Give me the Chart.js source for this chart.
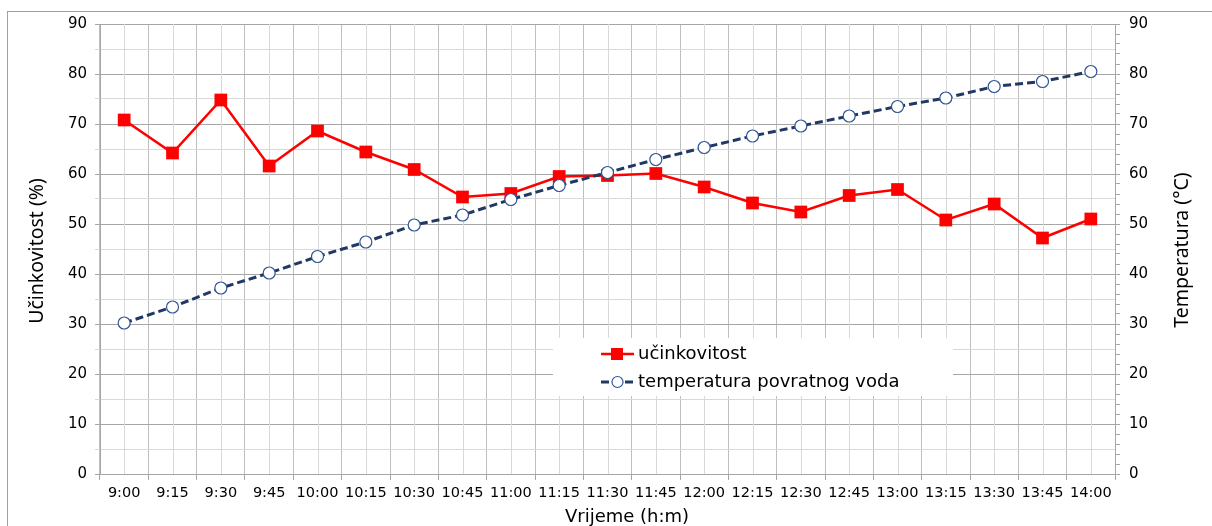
<!DOCTYPE html>
<html>
<head>
<meta charset="utf-8">
<script src="https://cdn.jsdelivr.net/npm/chart.js@4/dist/chart.umd.min.js"></script>
<style>
  html, body { margin: 0; padding: 0; background: #fff; overflow: hidden; }
  #wrap { position: relative; width: 1212px; height: 526px; }
  #frame { position: absolute; left: 7px; top: 11px; width: 1230px; height: 600px; border: 1px solid #a0a0a0; box-sizing: border-box; }
  canvas { position: absolute; left: 0; top: 0; }
</style>
</head>
<body>
<div id="wrap">
  <div id="frame"></div>
  <canvas id="chart" width="1212" height="526"></canvas>
</div>
<script>
// vremena mjerenja
const times = ["9:00", "9:15", "9:30", "9:45", "10:00", "10:15", "10:30", "10:45", "11:00", "11:15",
  "11:30", "11:45", "12:00", "12:15", "12:30", "12:45", "13:00", "13:15", "13:30", "13:45", "14:00"];

// učinkovitost (%)
const efficiency = [70.8, 64.2, 74.8, 61.6, 68.6, 64.4, 60.9, 55.4, 56.1, 59.5,
  59.7, 60.1, 57.4, 54.2, 52.4, 55.7, 56.9, 50.8, 54.0, 47.2, 51.0];

// temperatura povratnog voda (°C)
const returnTemp = [30.2, 33.4, 37.2, 40.2, 43.5, 46.4, 49.8, 51.8, 54.9, 57.7,
  60.3, 62.9, 65.3, 67.6, 69.6, 71.6, 73.5, 75.2, 77.5, 78.5, 80.5];

const axisMin = 0, axisMax = 90;
const seriesNames = ["učinkovitost", "temperatura povratnog voda"];
const axisTitles = { left: "Učinkovitost (%)", right: "Temperatura (°C)", bottom: "Vrijeme (h:m)" };

const MAJOR = "#a6a6a6";
const VLINE = "#bfbfbf";
const MINOR = "#d9d9d9";
const TICK_FONT = "'DejaVu Sans', Verdana, sans-serif";

// svijetle okomite linije na sredini svake kategorije
const minorGrid = {
  id: "minorGrid",
  beforeDatasetsDraw(chart) {
    const { ctx, chartArea: a } = chart;
    const xs = chart.scales.x;
    ctx.save();
    ctx.strokeStyle = MINOR;
    ctx.lineWidth = 1;
    times.forEach((t, i) => {
      const x = Math.round(xs.getPixelForValue(i)) + 0.5;
      ctx.beginPath();
      ctx.moveTo(x, a.top);
      ctx.lineTo(x, a.bottom);
      ctx.stroke();
    });
    ctx.restore();
  }
};

// naslovi osi i legenda unutar grafa
const decorations = {
  id: "decorations",
  afterDraw(chart) {
    const { ctx } = chart;
    ctx.save();
    ctx.fillStyle = "#000";
    ctx.textAlign = "center";
    ctx.textBaseline = "middle";

    ctx.font = "19.5px 'Noto Sans', sans-serif";
    ctx.save();
    ctx.translate(37, 251);
    ctx.rotate(-Math.PI / 2);
    ctx.fillText(axisTitles.left, 0, 0);
    ctx.restore();

    ctx.save();
    ctx.translate(1182, 250);
    ctx.rotate(-Math.PI / 2);
    ctx.fillText(axisTitles.right, 0, 0);
    ctx.restore();

    ctx.font = "18px " + TICK_FONT;
    ctx.fillText(axisTitles.bottom, 627, 517);

    // legenda
    ctx.fillStyle = "#fff";
    ctx.fillRect(553, 338, 400, 58);

    const ds = chart.data.datasets;
    const rows = [354, 382];
    rows.forEach((y, i) => {
      const d = ds[i];
      ctx.save();
      ctx.strokeStyle = d.borderColor;
      ctx.lineWidth = d.borderWidth;
      ctx.setLineDash(d.borderDash || []);
      ctx.beginPath();
      ctx.moveTo(601, y);
      ctx.lineTo(634, y);
      ctx.stroke();
      ctx.setLineDash([]);
      if (d.pointStyle === "rect") {
        ctx.fillStyle = d.pointBackgroundColor;
        ctx.fillRect(611, y - 6, 12, 12);
      } else {
        ctx.fillStyle = d.pointBackgroundColor;
        ctx.strokeStyle = d.pointBorderColor;
        ctx.lineWidth = d.pointBorderWidth;
        ctx.beginPath();
        ctx.arc(617.5, y, 5.5, 0, Math.PI * 2);
        ctx.fill();
        ctx.stroke();
      }
      ctx.restore();
      ctx.fillStyle = "#000";
      ctx.textAlign = "left";
      ctx.font = "18px " + TICK_FONT;
      ctx.fillText(seriesNames[i], 638, y);
    });
    ctx.restore();
  }
};

new Chart(document.getElementById("chart"), {
  type: "line",
  data: {
    labels: times,
    datasets: [
      {
        label: seriesNames[0],
        data: efficiency,
        yAxisID: "y",
        borderColor: "#ff0000",
        backgroundColor: "#ff0000",
        borderWidth: 2.5,
        pointStyle: "rect",
        pointRadius: 9,
        pointBackgroundColor: "#ff0000",
        pointBorderColor: "#ff0000",
        pointBorderWidth: 0,
        tension: 0,
        order: 1
      },
      {
        label: seriesNames[1],
        data: returnTemp,
        yAxisID: "y1",
        borderColor: "#1f3864",
        backgroundColor: "#ffffff",
        borderWidth: 3,
        borderDash: [8, 4],
        pointStyle: "circle",
        pointRadius: 6,
        pointBackgroundColor: "#ffffff",
        pointBorderColor: "#2f5597",
        pointBorderWidth: 1.2,
        tension: 0,
        order: 0
      }
    ]
  },
  options: {
    responsive: false,
    animation: false,
    devicePixelRatio: 1,
    layout: { padding: { top: 24, left: 0, right: 0, bottom: 0 } },
    plugins: { legend: { display: false }, tooltip: { enabled: false } },
    scales: {
      x: {
        offset: true,
        grid: { offset: true, color: VLINE, tickLength: 6, tickColor: MAJOR },
        border: { color: MAJOR },
        ticks: { color: "#000", font: { family: TICK_FONT, size: 14.5 }, padding: 5, autoSkip: false, maxRotation: 0 },
        afterFit(s) { s.height = 52; }
      },
      y: {
        position: "left",
        min: axisMin, max: axisMax,
        grid: {
          color: c => (c.tick && c.tick.value % 10 === 0 ? MAJOR : MINOR),
          tickLength: 5
        },
        border: { color: MAJOR },
        ticks: {
          stepSize: 5,
          color: "#000",
          font: { family: TICK_FONT, size: 15 },
          padding: 8,
          callback: v => (v % 10 === 0 ? v : "")
        },
        afterFit(s) { s.width = 100; }
      },
      y1: {
        position: "right",
        min: axisMin, max: axisMax,
        grid: { drawOnChartArea: false, color: MAJOR, tickLength: 5 },
        border: { color: MAJOR },
        ticks: {
          stepSize: 2,
          autoSkip: false,
          color: "#000",
          font: { family: TICK_FONT, size: 15 },
          padding: 9,
          callback: v => (v % 10 === 0 ? v : "")
        },
        afterFit(s) { s.width = 97; }
      }
    }
  },
  plugins: [minorGrid, decorations]
});
</script>
</body>
</html>
